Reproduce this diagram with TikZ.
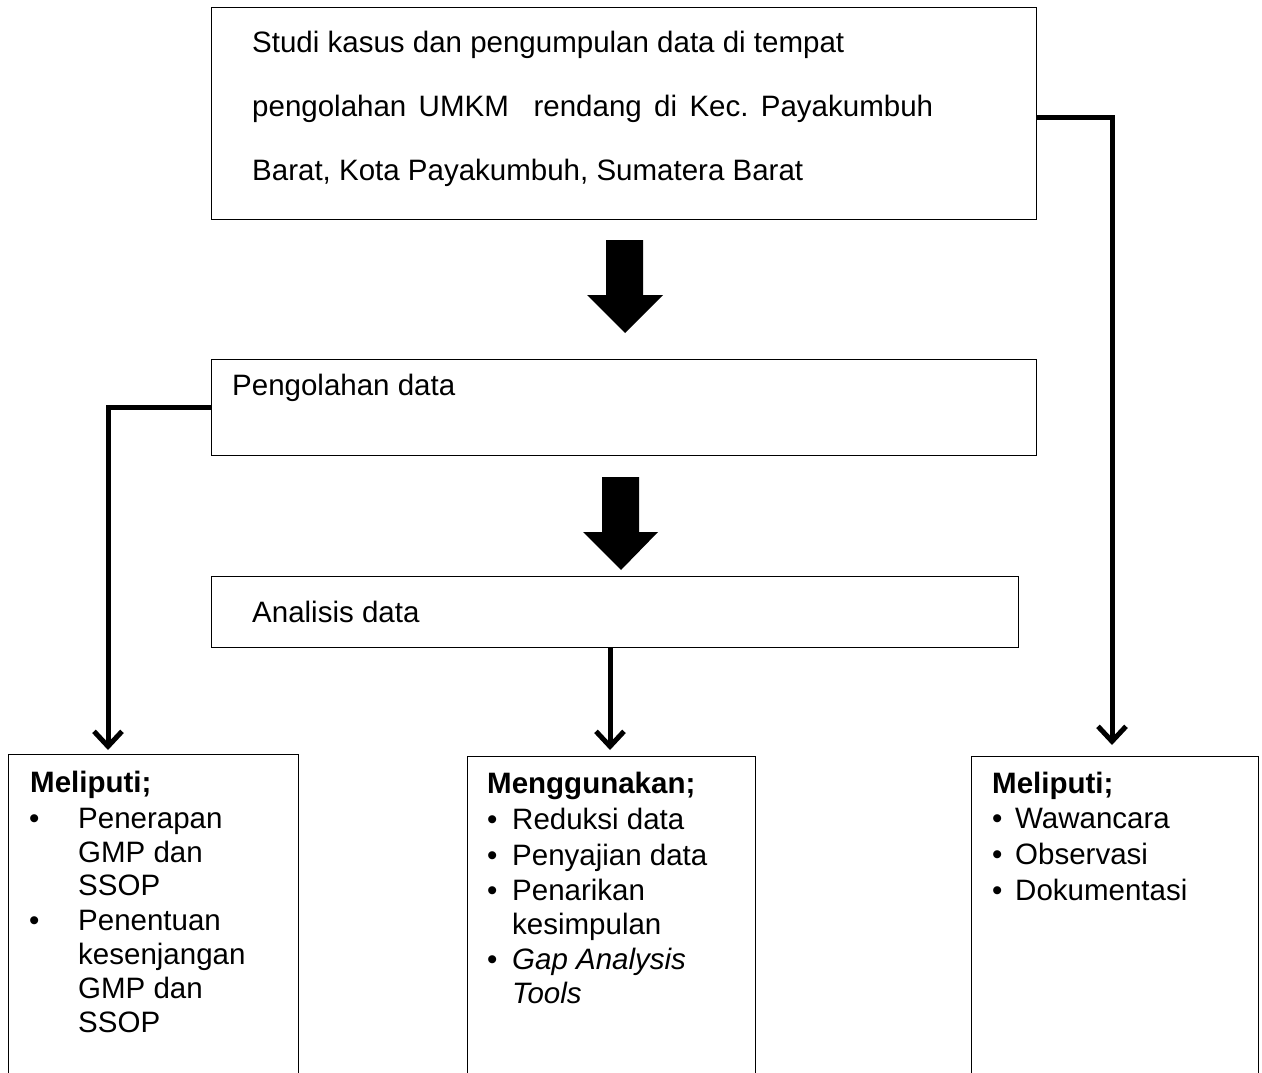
\documentclass[tikz,border=0pt]{standalone}
\usepackage{fontspec}
\setmainfont{Liberation Sans}
\usetikzlibrary{arrows.meta}
\frenchspacing
\begin{document}
\begin{tikzpicture}[x=1pt,y=-1pt,
  box/.style={draw=black, line width=1.3pt, inner sep=0pt, anchor=north west},
  txt/.style={anchor=base west, inner sep=0pt, font=\fontsize{29.5}{34}\selectfont},
  conn/.style={line width=5pt, -{Straight Barb[length=15pt,width=28pt]}},
  blockarrow/.style={fill=black}]
\useasboundingbox (0,0) rectangle (1262,1073);
\clip (0,0) rectangle (1262,1073);

% boxes
\node[box, minimum width=825pt, minimum height=212pt] (b1) at (211,7) {};
\node[box, minimum width=825pt, minimum height=96pt] (b2) at (211,359) {};
\node[box, minimum width=807pt, minimum height=71pt] (b3) at (211,576) {};
\node[box, minimum width=290pt, minimum height=340pt] (lb) at (8,754) {};
\node[box, minimum width=288pt, minimum height=340pt] (mb) at (467,756) {};
\node[box, minimum width=287pt, minimum height=340pt] (rb) at (971,756) {};

% top box text
\node[txt] (t1) at (252,53) {Studi kasus dan pengumpulan data di tempat};
\node[txt] (t2) at (252,117) {\makebox[681pt][s]{pengolahan UMKM\ \ rendang di Kec. Payakumbuh}};
\node[txt] (t3) at (252,180) {Barat, Kota Payakumbuh, Sumatera Barat};

\node[txt] (t4) at (232,395) {Pengolahan data};
\node[txt] (t5) at (252,622) {Analisis data};

% block arrows
\fill[blockarrow] (606,240) -- (643,240) -- (643,295) -- (663,295) -- (625,333) -- (587,295) -- (606,295) -- cycle;
\fill[blockarrow] (602,477) -- (639,477) -- (639,532) -- (658,532) -- (621,570) -- (583,532) -- (602,532) -- cycle;

% left box text
\node[txt, font=\fontsize{29.5}{34}\selectfont\bfseries] (l0) at (30,792) {Meliputi;};
\node[txt] (lb1) at (29,828) {•};
\node[txt] (l1) at (78,828) {Penerapan};
\node[txt] (l2) at (78,862) {GMP dan};
\node[txt] (l3) at (78,895) {SSOP};
\node[txt] (lb2) at (29,930) {•};
\node[txt] (l4) at (78,930) {Penentuan};
\node[txt] (l5) at (78,964) {kesenjangan};
\node[txt] (l6) at (78,998) {GMP dan};
\node[txt] (l7) at (78,1032) {SSOP};

% middle box text
\node[txt, font=\fontsize{29.5}{34}\selectfont\bfseries] (m0) at (487,793) {Menggunakan;};
\node[txt] (mb1) at (487,829) {•};
\node[txt] (m1) at (512,829) {Reduksi data};
\node[txt] (mb2) at (487,865) {•};
\node[txt] (m2) at (512,865) {Penyajian data};
\node[txt] (mb3) at (487,900) {•};
\node[txt] (m3) at (512,900) {Penarikan};
\node[txt] (m4) at (512,934) {kesimpulan};
\node[txt] (mb4) at (487,969) {•};
\node[txt] (m5) at (512,969) {\itshape Gap Analysis};
\node[txt] (m6) at (512,1003) {\itshape Tools};

% right box text
\node[txt, font=\fontsize{29.5}{34}\selectfont\bfseries] (r0) at (992,793) {Meliputi;};
\node[txt] (rb1) at (992,828) {•};
\node[txt] (r1) at (1015,828) {Wawancara};
\node[txt] (rb2) at (992,864) {•};
\node[txt] (r2) at (1015,864) {Observasi};
\node[txt] (rb3) at (992,900) {•};
\node[txt] (r3) at (1015,900) {Dokumentasi};

% connectors
\coordinate (ltip) at (108,750);
\coordinate (mtip) at (610,750);
\coordinate (rtip) at (1112,745);
\coordinate (rstart) at (1036,117);
\draw[conn] (b2.west) -| (ltip);
\draw[conn] (b3.south -| mtip) -- (mtip);
\draw[conn] (b1.east |- rstart) -| (rtip);
\end{tikzpicture}
\end{document}
